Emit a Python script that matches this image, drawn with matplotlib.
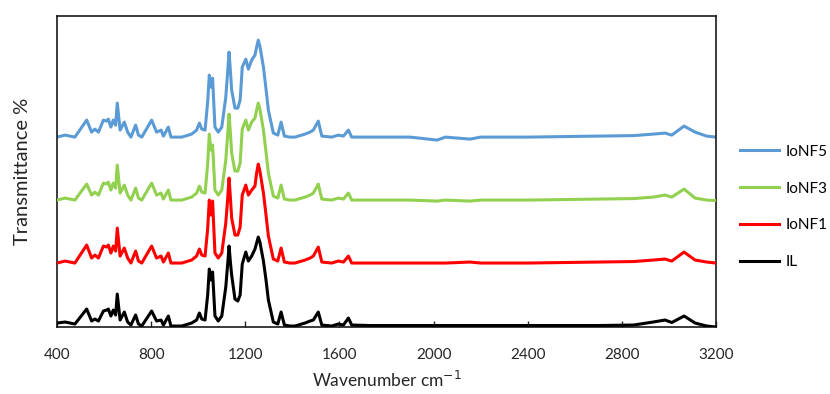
#!/usr/bin/env python3
"""
FTIR spectra of IL and the IoNF1/3/5 samples, stacked with a vertical offset.
Writes out.png in the current folder.
"""
import matplotlib

matplotlib.use('Agg')
import matplotlib.pyplot as plt

# wavenumber grid (cm-1) the spectra were read on
wavenumber = [400, 434, 476, 526, 547, 561, 576, 597, 611, 618, 629, 639, 649, 656, 668,
              686, 700, 714, 734, 746, 760, 802, 823, 842, 852, 873, 884, 901, 930, 972,
              993, 1005, 1015, 1029, 1040, 1047, 1054, 1061, 1071, 1085, 1100, 1117, 1124, 1131, 1137,
              1142, 1156, 1168, 1178, 1187, 1202, 1213, 1227, 1241, 1248, 1255, 1262, 1277, 1288, 1298,
              1319, 1338, 1352, 1366, 1390, 1411, 1454, 1475, 1489, 1510, 1525, 1567, 1595, 1617, 1638,
              1652, 1730, 1900, 2015, 2050, 2155, 2200, 2400, 2700, 2850, 2933, 2983, 3012, 3064, 3111,
              3160, 3200]

# signal above each trace's own baseline (arbitrary units)
ionf5 = [0, 2, 0, 17, 5, 8, 5, 17, 16, 18, 10, 17, 12, 34, 7,
         15, 5, 0, 12, 2, 0, 17, 5, 7, 1, 10, 0, 0, 0, 3,
         7, 14, 8, 7, 35, 62, 50, 59, 10, 5, 10, 40, 62, 85, 65,
         47, 29, 29, 37, 70, 78, 68, 77, 82, 90, 97, 91, 70, 48, 27,
         4, 2, 15, 1, 0, 0, 3, 5, 7, 16, 1, 0, 2, 1, 7,
         0, 0, 0, -3, 0, -2, 0, 0, 1, 1.5, 3, 4, 2, 11, 5,
         1, 0]

ionf3 = [0, 2, 0, 16, 5, 8, 5, 17, 16, 18, 10, 17, 12, 35, 7,
         15, 5, 0, 12, 2, 0, 17, 5, 7, 1, 10, 0, 0, 0, 3,
         7, 14, 8, 7, 36, 66, 50, 55, 10, 5, 10, 40, 62, 86, 66,
         47, 29, 29, 37, 71, 80, 70, 78, 82, 90, 97, 91, 70, 48, 27,
         4, 2, 15, 1, 0, 0, 3, 5, 7, 16, 1, 0, 2, 1, 7,
         0, 0, 0, -1, 0, -1, 0, 0, 1, 1.5, 3, 5, 3, 11, 2,
         0, -0.5]

ionf1 = [0, 2, 0, 18, 5, 8, 5, 17, 16, 18, 10, 17, 12, 35, 7,
         15, 5, 0, 12, 2, 0, 17, 5, 7, 1, 10, 0, 0, 0, 3,
         7, 14, 8, 7, 34, 63, 48, 62, 10, 5, 10, 40, 61, 85, 64,
         45, 28, 28, 36, 68, 78, 68, 73, 77, 90, 99, 92, 70, 48, 27,
         4, 2, 15, 1, 0, 0, 3, 5, 7, 16, 1, 0, 2, 1, 7,
         0, 0, 0, 0, 0, 1, 0, 0, 1, 1.5, 3, 4, 2, 11, 3,
         1, 0]

il = [2, 3, 1, 16, 4, 6, 4, 14, 15, 16, 9, 15, 10, 31, 5,
      13, 3, 0, 10, 1, -1, 14, 4, 5, 0, 9, -1, -1, -1, 2,
      5, 12, 6, 5, 30, 56, 45, 53, 9, 4, 9, 38, 58, 79, 62,
      50, 26, 24, 30, 61, 73, 64, 69, 76, 82, 88, 83, 64, 45, 25,
      3, 1, 13, 0, -1, -1, 2, 4, 5, 13, 0, -1, 1, 0, 7,
      0, -0.5, -0.5, -0.5, -0.5, -0.5, -0.5, -0.5, -0.5, 0, 3, 5, 2.5, 9, 2,
      -1, -2]

labels = ['IoNF5', 'IoNF3', 'IoNF1', 'IL']
offsets = [190, 127, 64, 2]
colors = ['#5B9BD5', '#92D050', '#FF0000', '#000000']


def plot(outpath):
    plt.rcParams['font.family'] = ['Lato', 'DejaVu Sans']
    fig = plt.figure(figsize=(8.3, 3.94), dpi=100)
    ax = fig.add_axes([0.0687, 0.170, 0.794, 0.789])

    series = [ionf5, ionf3, ionf1, il]
    for i, (ys, lab, off, col) in enumerate(zip(series, labels, offsets, colors)):
        ax.plot(wavenumber, [y + off for y in ys], color=col, lw=2.2,
                label=lab, zorder=2 + i, solid_joinstyle='round')

    ax.set_xlim(400, 3200)
    ax.set_ylim(0, 311)
    ax.set_xticks(range(400, 3201, 400))
    ax.set_yticks([])
    ax.tick_params(axis='x', direction='in', length=4, width=1, pad=15,
                   labelsize=11, colors='#262626')
    for sp in ax.spines.values():
        sp.set_linewidth(1.2)
        sp.set_color('#1a1a1a')

    ax.set_xlabel('Wavenumber cm$^{-1}$', fontsize=12.5, color='#262626', labelpad=6)
    ax.set_ylabel('Transmittance %', fontsize=14.5, color='#262626', labelpad=19)

    fig.legend(loc='center left', bbox_to_anchor=(0.882, 1 - 207 / 394),
               frameon=False, fontsize=11, handlelength=2.6, handletextpad=0.4,
               labelspacing=1.5, borderpad=0)

    fig.savefig(outpath, dpi=100)
    print(f"WROTE {outpath}")


if __name__ == '__main__':
    plot('out.png')
